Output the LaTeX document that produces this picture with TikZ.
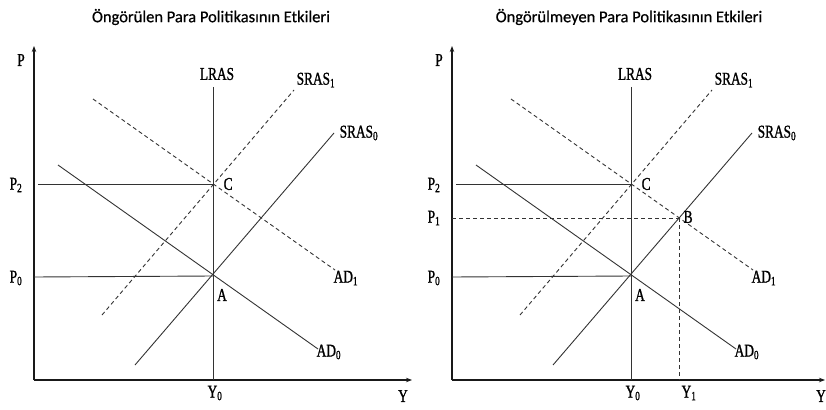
\documentclass[tikz,border=0pt]{standalone}
\usepackage{fontspec}
\setmainfont{Liberation Serif}
\newfontfamily\titlefont[FakeBold=0.6]{Carlito}
\newfontfamily\lblfont[FakeStretch=0.74,FakeBold=1.2]{Liberation Serif}
\usetikzlibrary{arrows.meta}
\begin{document}
\begin{tikzpicture}[x=1pt,y=-1pt,
  curve/.style={line width=0.9pt, draw=black!80},
  dcurve/.style={curve, dash pattern=on 4pt off 3pt},
  axisline/.style={line width=1.6pt, draw=black!90, -{Stealth[length=6pt,width=4.5pt]}},
  lbl/.style={font=\lblfont\fontsize{18}{18}\selectfont, inner sep=0.5pt, text=black},
  ttl/.style={font=\titlefont\fontsize{16.5}{16.5}\selectfont, inner sep=0pt, text=black},
]
\useasboundingbox (0,0) rectangle (826,409);
\node[ttl] (T1) at (211,17) {Öngörülen Para Politikasının Etkileri};
\node[ttl] (T2) at (629,17) {Öngörülmeyen Para Politikasının Etkileri};
\foreach \s/\dx/\xe in {L/0/412, R/418/407} {
 \begin{scope}[xshift=\dx]
  \coordinate (O\s) at (34,380);
  \coordinate (Pt\s) at (34,46);
  \coordinate (Ye\s) at (\xe,380);
  \coordinate (LRt\s) at (213,87);
  \coordinate (LRb\s) at (213,380);
  \coordinate (A\s) at (213,276);
  \coordinate (C\s) at (213,184);
  \coordinate (P2s\s) at (38,184);
  \coordinate (P0s\s) at (34,277);
  \coordinate (AD0a\s) at (58,165);
  \coordinate (AD0b\s) at (318,349);
  \coordinate (AD1a\s) at (93,99);
  \coordinate (AD1b\s) at (335,270);
  \coordinate (S1a\s) at (102,315);
  \coordinate (S1b\s) at (294,90);
  \coordinate (S0a\s) at (135,365);
  \coordinate (S0b\s) at (334,133);
  \draw[axisline] (O\s) -- (Pt\s);
  \draw[axisline] (O\s) -- (Ye\s);
  \draw[curve] (LRt\s) -- (LRb\s);
  \draw[curve] (P2s\s) -- (C\s);
  \draw[curve] (P0s\s) -- (A\s);
  \draw[curve] (AD0a\s) -- (AD0b\s);
  \draw[dcurve] (AD1a\s) -- (AD1b\s);
  \draw[dcurve] (S1a\s) -- (S1b\s);
  \draw[curve] (S0a\s) -- (S0b\s);
  \node[lbl] (Plab\s) at (21,60) {P};
  \node[lbl] (Ylab\s) at (403,396) {Y};
  \node[lbl] (P2lab\s) at (16,185) {P\textsubscript{2}};
  \node[lbl] (P0lab\s) at (16,278) {P\textsubscript{0}};
  \node[lbl] (Y0lab\s) at (215,393) {Y\textsubscript{0}};
  \node[lbl] (LRlab\s) at (217,74) {LRAS};
  \node[lbl, anchor=west] (S1lab\s) at (296,80) {SRAS\textsubscript{1}};
  \node[lbl, anchor=west] (S0lab\s) at (339,133) {SRAS\textsubscript{0}};
  \node[lbl, anchor=west] (AD1lab\s) at (333,278) {AD\textsubscript{1}};
  \node[lbl, anchor=west] (AD0lab\s) at (316,352) {AD\textsubscript{0}};
  \node[lbl, anchor=west] (Clab\s) at (223,184) {C};
  \node[lbl] (Alab\s) at (222,295) {A};
 \end{scope}
}
\begin{scope}[xshift=418]
  \coordinate (B) at (261,218);
  \coordinate (P1s) at (34,218);
  \coordinate (Y1b) at (261,380);
  \draw[dcurve] (P1s) -- (B);
  \draw[dcurve] (B) -- (Y1b);
  \node[lbl] (P1lab) at (16,218) {P\textsubscript{1}};
  \node[lbl, anchor=west] (Blab) at (265,217) {B};
  \node[lbl] (Y1lab) at (271,393) {Y\textsubscript{1}};
\end{scope}
\end{tikzpicture}
\end{document}
